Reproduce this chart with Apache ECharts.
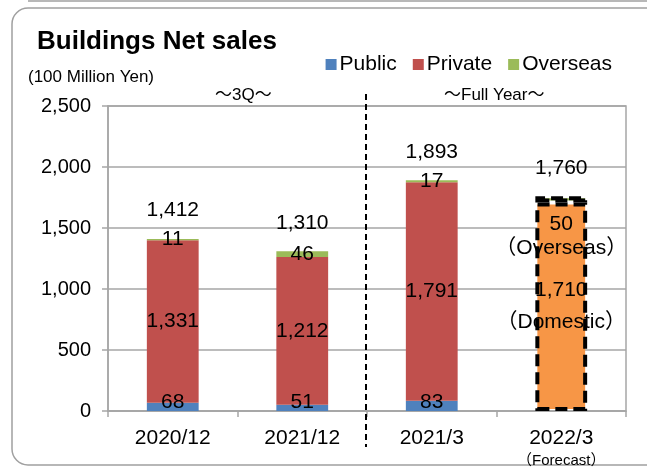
<!doctype html>
<html lang="en">
<head>
<meta charset="UTF-8">
<title>Buildings Net sales</title>
<script src="https://cdn.jsdelivr.net/npm/echarts@6/dist/echarts.min.js"></script>
<style>
  html, body { margin: 0; padding: 0; background: #fff; }
  #main { width: 647px; height: 475px; }
</style>
</head>
<body>
<div id="main"></div>
<script type="text/javascript">
    var categories = ['2020/12', '2021/12', '2021/3', '2022/3'];
    var publicSales = [68, 51, 83, null];
    var privateSales = [1331, 1212, 1791, null];
    var domesticSales = [null, null, null, 1710];
    var overseasSales = [11, 46, 17, 50];
    var totals = [1412, 1310, 1893, 1760];
    var yTicks = [0, 500, 1000, 1500, 2000, 2500];

    var FONT = '"Liberation Sans", Arial, "Noto Sans CJK JP", sans-serif';
    var fmt = function (v) { return Number(v).toLocaleString('en-US'); };

    var chart = echarts.init(document.getElementById('main'));

    var labelBase = {
        show: true,
        color: '#000',
        fontSize: 21,
        fontFamily: FONT
    };

    // 予想の棒は点線の枠
    var dashed = { borderColor: '#000', borderWidth: 4, borderType: [12, 6] };

    var option = {
        animation: false,
        textStyle: { fontFamily: FONT },
        title: {
            text: 'Buildings Net sales',
            left: 32,
            top: 24,
            textStyle: { fontSize: 26, fontWeight: 'bold', color: '#000', fontFamily: FONT }
        },
        legend: {
            data: ['Public', 'Private', 'Overseas'],
            right: 30,
            top: 49,
            itemWidth: 11,
            itemHeight: 11,
            itemGap: 16,
            icon: 'rect',
            textStyle: { fontSize: 21, color: '#000', fontFamily: FONT, padding: [0, 0, 0, -2] }
        },
        grid: {
            left: 108,
            right: 21,
            top: 106,
            bottom: 64,
            show: true,
            borderColor: '#A6A6A6',
            borderWidth: 1.5
        },
        xAxis: {
            type: 'category',
            data: categories,
            axisLine: { lineStyle: { color: '#A6A6A6', width: 1.5 } },
            axisTick: { show: true, length: 6, lineStyle: { color: '#A6A6A6', width: 1.5 } },
            axisLabel: {
                color: '#000',
                fontSize: 21,
                interval: 0,
                margin: 16,
                lineHeight: 22,
                formatter: function (v) {
                    return v === '2022/3' ? v + '\n{s|（Forecast）}' : v;
                },
                rich: { s: { fontSize: 15, color: '#000', lineHeight: 22, padding: [2, 0, 0, 0] } }
            }
        },
        yAxis: {
            type: 'value',
            min: yTicks[0],
            max: yTicks[yTicks.length - 1],
            interval: 500,
            axisLine: { show: true, lineStyle: { color: '#A6A6A6', width: 1.5 } },
            axisTick: { show: true, inside: false, length: 6, lineStyle: { color: '#A6A6A6', width: 1.5 } },
            splitLine: { lineStyle: { color: '#A6A6A6', width: 1.5 } },
            axisLabel: { color: '#000', fontSize: 20, margin: 17, formatter: fmt }
        },
        series: [
            {
                name: 'Public',
                type: 'bar',
                stack: 'a',
                barWidth: '40%',
                itemStyle: { color: '#4F81BD' },
                label: Object.assign({}, labelBase, { position: 'insideBottom', distance: -2, formatter: function (p) { return fmt(p.value); } }),
                data: publicSales
            },
            {
                name: 'Private',
                type: 'bar',
                stack: 'a',
                itemStyle: { color: '#C0504D' },
                label: Object.assign({}, labelBase, { position: 'inside', formatter: function (p) { return fmt(p.value); } }),
                data: privateSales
            },
            {
                name: 'Domestic',
                type: 'bar',
                stack: 'a',
                itemStyle: Object.assign({ color: '#F79646' }, dashed),
                label: Object.assign({}, labelBase, {
                    position: 'inside',
                    lineHeight: 32,
                    formatter: function (p) { return fmt(p.value) + '\n（Domestic）'; }
                }),
                data: domesticSales
            },
            {
                name: 'Overseas',
                type: 'bar',
                stack: 'a',
                itemStyle: { color: '#9BBB59' },
                label: Object.assign({}, labelBase, { position: 'inside', formatter: function (p) { return fmt(p.value); } }),
                data: overseasSales.map(function (v, i) {
                    if (i !== 3) return v;
                    return {
                        value: v,
                        itemStyle: dashed,
                        label: {
                            position: 'bottom',
                            distance: 10,
                            lineHeight: 24,
                            formatter: function (p) { return fmt(p.value) + '\n（Overseas）'; }
                        }
                    };
                })
            },
            {
                name: 'Total',
                type: 'bar',
                stack: 'a',
                itemStyle: { color: 'transparent' },
                label: Object.assign({}, labelBase, {
                    position: 'top',
                    distance: 18,
                    formatter: function (p) { return fmt(totals[p.dataIndex]); }
                }),
                data: totals.map(function () { return 0; })
            }
        ],
        graphic: [
            {
                type: 'rect',
                shape: { x: 12, y: 8, width: 680, height: 457, r: 16 },
                style: { fill: 'none', stroke: '#A0A0A0', lineWidth: 1.5 },
                z: -1
            },
            {
                type: 'line',
                shape: { x1: 28, y1: 1, x2: 647, y2: 1 },
                style: { stroke: '#A0A0A0', lineWidth: 1.5 }
            },
            {
                type: 'line',
                shape: { x1: 366, y1: 94, x2: 366, y2: 447 },
                style: { stroke: '#000', lineWidth: 2, lineDash: [6, 4] },
                z: 10
            },
            {
                type: 'text',
                left: 28,
                top: 69,
                style: { text: '(100 Million Yen)', fontSize: 17, fill: '#000', fontFamily: FONT }
            },
            {
                type: 'text',
                left: 215,
                top: 87,
                style: { text: '～3Q～', fontSize: 17, fill: '#000', fontFamily: FONT }
            },
            {
                type: 'text',
                left: 444,
                top: 87,
                style: { text: '～Full Year～', fontSize: 17, fill: '#000', fontFamily: FONT }
            }
        ]
    };

    chart.setOption(option);
</script>
</body>
</html>
